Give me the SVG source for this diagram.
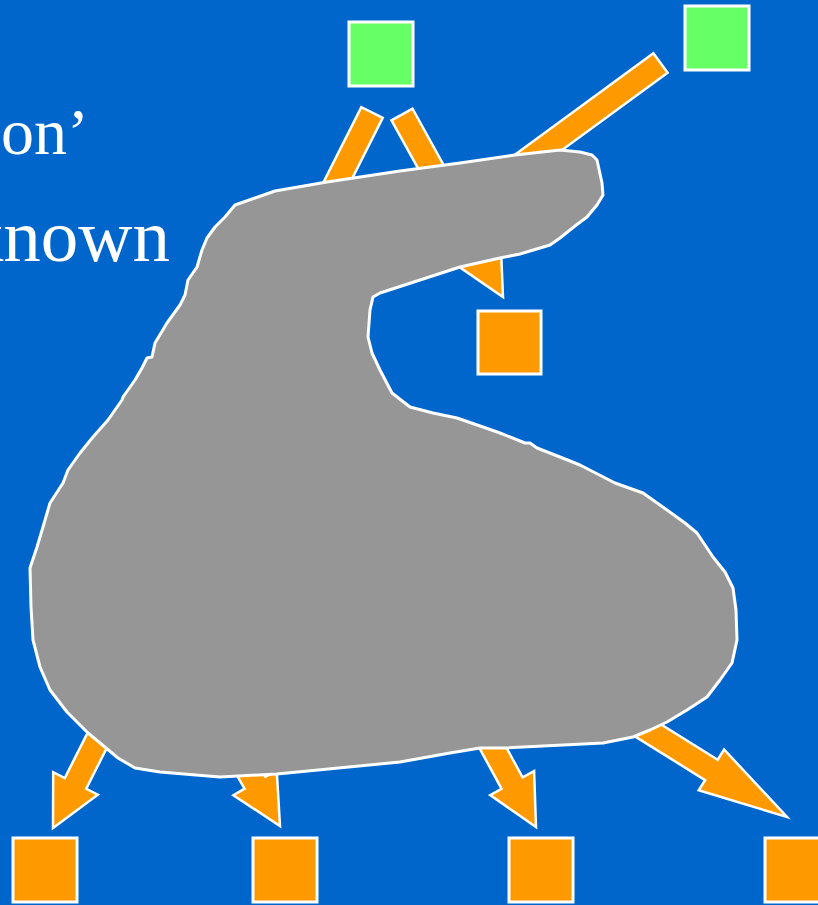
<svg xmlns="http://www.w3.org/2000/svg" width="818" height="905" viewBox="0 0 818 905">
<style>
.txt{font-family:"Liberation Serif","Times New Roman",serif;fill:#fff}
.arrow{fill:#FF9900;stroke:#fff;stroke-width:2.5;stroke-linejoin:miter}
.sq-g{fill:#66FF66;stroke:#fff;stroke-width:3}
.sq-o{fill:#FF9900;stroke:#fff;stroke-width:3}
.blob{fill:#969696;stroke:#fff;stroke-width:3;stroke-linejoin:round}
</style>
<rect x="0" y="0" width="818" height="905" fill="#0066CC"/>
<g id="text">
<text class="txt" x="1" y="154" font-size="66">on’</text>
<text class="txt" x="170" y="261" font-size="75" text-anchor="end">known</text>
</g>
<g id="connectors">
<polygon class="arrow" points="382.7,117.9 324.2,234 335.8,239.9 291,273.2 291.2,217.4 302.8,223.2 361.3,107.1"/>
<polygon class="arrow" points="391.5,120.3 468.3,259.1 456.9,265.4 503,297 500.6,241.2 489.2,247.5 412.5,108.7"/>
<polygon class="arrow" points="667.6,72.7 482,208.6 489.7,219.1 434.5,228.5 460.1,178.7 467.8,189.2 653.4,53.3"/>
<polygon class="arrow" points="131.2,699.5 86.2,788.8 97.8,794.7 53,828 53.2,772.2 64.8,778 109.8,688.7"/>
<polygon class="arrow" points="194.6,702.1 244.6,788.7 233.4,795.2 280,826 276.7,770.2 265.4,776.7 215.4,690.1"/>
<polygon class="arrow" points="453.8,701 501.6,788.8 490.2,795.1 536,827 534.1,771.1 522.6,777.4 474.8,689.6"/>
<polygon class="arrow" points="603.2,716.6 705.1,780.1 698.7,790.3 787,817 724.1,749.5 717.7,759.7 615.8,696.2"/>
</g>
<g id="blob">
<path class="blob" d="M235,205 L275,191 L327,182 L400,171 L460,163 L515,155 L560,150 L580,152 L592,155 L597,160 L602,183 L603,195 L597,205 L587,217 L575,226 L560,238 L550,245 L520,254 L500,258 L460,267 L380,293 L373,297 L370,310 L368,337 L372,353 L380,370 L392,393 L410,407 L433,413 L457,418 L483,427 L500,433 L525,443 L530,443 L537,448 L560,457 L580,465 L615,483 L643,493 L667,510 L685,523 L697,533 L713,557 L725,572 L733,588 L736,610 L737,640 L732,663 L720,680 L707,697 L687,710 L667,722 L650,730 L633,737 L603,743 L505,748 L480,748 L450,753 L400,762 L277,774 L220,777 L160,772 L135,768 L118,758 L88,733 L67,712 L50,690 L40,667 L33,640 L31,607 L30,568 L37,547 L43,527 L50,503 L63,483 L68,470 L80,453 L93,437 L108,420 L122,400 L123,397 L135,380 L142,368 L147,358 L152,357 L155,343 L167,323 L180,305 L185,295 L188,280 L197,267 L202,250 L207,238 L215,227 L225,217 Z"/>
</g>
<g id="node-green-1"><rect class="sq-g" x="349" y="22" width="64" height="64"/></g>
<g id="node-green-2"><rect class="sq-g" x="685" y="6" width="64" height="64"/></g>
<g id="node-orange-top"><rect class="sq-o" x="478" y="311" width="63" height="63"/></g>
<g id="node-orange-1"><rect class="sq-o" x="13" y="838" width="64" height="64"/></g>
<g id="node-orange-2"><rect class="sq-o" x="253" y="838" width="64" height="64"/></g>
<g id="node-orange-3"><rect class="sq-o" x="509" y="838" width="64" height="64"/></g>
<g id="node-orange-4"><rect class="sq-o" x="765" y="838" width="64" height="64"/></g>
</svg>
